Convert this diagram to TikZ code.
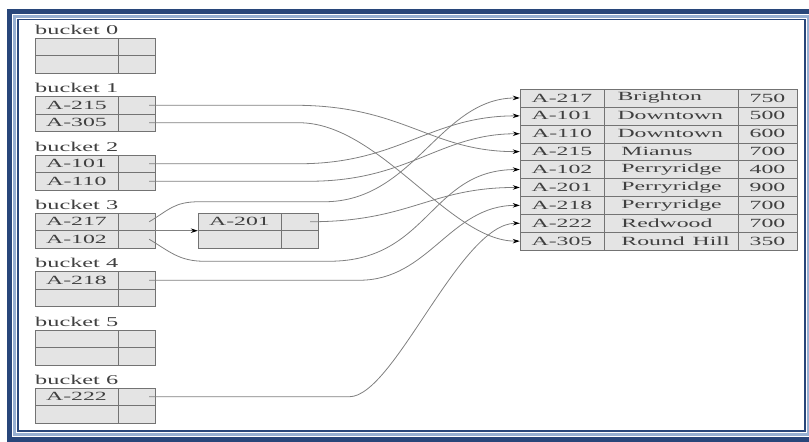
\documentclass[tikz,border=0pt]{standalone}
\usepackage{fontspec}
\setmainfont{Liberation Serif}
\usetikzlibrary{arrows.meta}
\definecolor{framedark}{HTML}{28467A}
\definecolor{framelight}{HTML}{96AFD2}
\definecolor{cellgray}{HTML}{E4E4E4}
\newcommand{\wtxt}[1]{\scalebox{1.9}[1]{#1}}
\newcommand{\ltxt}[1]{\scalebox{1.8}[1]{#1}}

\begin{document}
\begin{tikzpicture}[x=1pt, y=-1pt,
  cell/.style={draw=black!55, fill=cellgray, rectangle, inner sep=0pt,
               minimum height=17.5pt, text=black!75,
               font=\fontsize{12.5}{15}\selectfont},
  kcell/.style={cell, minimum width=83pt},
  pcell/.style={cell, minimum width=37pt},
  tcell/.style={cell, minimum height=17.9pt},
  acol/.style={tcell, minimum width=84pt},
  bcol/.style={tcell, minimum width=134pt, text width=107pt, align=left},
  vcol/.style={tcell, minimum width=59pt},
  bname/.style={anchor=base west, inner sep=0pt, text=black!75,
                font=\fontsize{13.5}{16}\selectfont},
  arr/.style={-{Stealth[length=7pt,width=4.5pt,color=black]},
              draw=black!50, line width=0.8pt}
]
\useasboundingbox (0,0) rectangle (809,442);

%% ── frame ───────────────────────────────────────────────────────────────
\draw[line width=5pt, draw=framedark]  (9.5,11.5) rectangle (815,439.5);
\draw[line width=3pt, draw=framelight] (14.5,16.5) rectangle (808,434.5);
\draw[line width=1.2pt, draw=framedark] (18,19.5) rectangle (805,431);

%% ── buckets ─────────────────────────────────────────────────────────────
\node[bname] (bl0) at (35,34) {\ltxt{bucket 0}};
\node[kcell] (k0a)  at (76.5,46.75)  {};
\node[pcell] (p0a)  at (136.5,46.75) {};
\node[kcell] (k0b)  at (76.5,64.25)  {};
\node[pcell] (p0b)  at (136.5,64.25) {};

\node[bname] (bl1) at (35,92.5) {\ltxt{bucket 1}};
\node[kcell] (k215) at (76.5,105.25)  {\wtxt{A-215}};
\node[pcell] (p215) at (136.5,105.25) {};
\node[kcell] (k305) at (76.5,122.75)  {\wtxt{A-305}};
\node[pcell] (p305) at (136.5,122.75) {};

\node[bname] (bl2) at (35,151) {\ltxt{bucket 2}};
\node[kcell] (k101) at (76.5,163.75)  {\wtxt{A-101}};
\node[pcell] (p101) at (136.5,163.75) {};
\node[kcell] (k110) at (76.5,181.25)  {\wtxt{A-110}};
\node[pcell] (p110) at (136.5,181.25) {};

\node[bname] (bl3) at (35,209) {\ltxt{bucket 3}};
\node[kcell] (k217) at (76.5,221.75)  {\wtxt{A-217}};
\node[pcell] (p217) at (136.5,221.75) {};
\node[kcell] (k102) at (76.5,239.25)  {\wtxt{A-102}};
\node[pcell] (p102) at (136.5,239.25) {};

\node[bname] (bl4) at (35,267.5) {\ltxt{bucket 4}};
\node[kcell] (k218) at (76.5,280.25)  {\wtxt{A-218}};
\node[pcell] (p218) at (136.5,280.25) {};
\node[kcell] (k4b)  at (76.5,297.75)  {};
\node[pcell] (p4b)  at (136.5,297.75) {};

\node[bname] (bl5) at (35,326) {\ltxt{bucket 5}};
\node[kcell] (k5a)  at (76.5,338.75)  {};
\node[pcell] (p5a)  at (136.5,338.75) {};
\node[kcell] (k5b)  at (76.5,356.25)  {};
\node[pcell] (p5b)  at (136.5,356.25) {};

\node[bname] (bl6) at (35,384) {\ltxt{bucket 6}};
\node[kcell] (k222) at (76.5,396.75)  {\wtxt{A-222}};
\node[pcell] (p222) at (136.5,396.75) {};
\node[kcell] (k6b)  at (76.5,414.25)  {};
\node[pcell] (p6b)  at (136.5,414.25) {};

% overflow bucket of bucket 3
\node[kcell] (ko201) at (239.5,221.75) {\wtxt{A-201}};
\node[pcell] (po201) at (299.5,221.75) {};
\node[kcell] (ko2)   at (239.5,239.25) {};
\node[pcell] (po2)   at (299.5,239.25) {};

%% ── account file ────────────────────────────────────────────────────────
\node[acol] (a217) at (562,97.95)  {\wtxt{A-217}};
\node[bcol] (a217n) at (671,97.95) {\wtxt{Brighton}};
\node[vcol] (a217v) at (767.5,97.95) {\wtxt{750}};
\node[acol] (a101) at (562,115.85) {\wtxt{A-101}};
\node[bcol] (a101n) at (671,115.85) {\wtxt{Downtown}};
\node[vcol] (a101v) at (767.5,115.85) {\wtxt{500}};
\node[acol] (a110) at (562,133.75) {\wtxt{A-110}};
\node[bcol] (a110n) at (671,133.75) {\wtxt{Downtown}};
\node[vcol] (a110v) at (767.5,133.75) {\wtxt{600}};
\node[acol] (a215) at (562,151.65) {\wtxt{A-215}};
\node[bcol] (a215n) at (671,151.65) {\wtxt{\,Mianus}};
\node[vcol] (a215v) at (767.5,151.65) {\wtxt{700}};
\node[acol] (a102) at (562,169.55) {\wtxt{A-102}};
\node[bcol] (a102n) at (671,169.55) {\wtxt{\,Perryridge}};
\node[vcol] (a102v) at (767.5,169.55) {\wtxt{400}};
\node[acol] (a201) at (562,187.45) {\wtxt{A-201}};
\node[bcol] (a201n) at (671,187.45) {\wtxt{\,Perryridge}};
\node[vcol] (a201v) at (767.5,187.45) {\wtxt{900}};
\node[acol] (a218) at (562,205.35) {\wtxt{A-218}};
\node[bcol] (a218n) at (671,205.35) {\wtxt{\,Perryridge}};
\node[vcol] (a218v) at (767.5,205.35) {\wtxt{700}};
\node[acol] (a222) at (562,223.25) {\wtxt{A-222}};
\node[bcol] (a222n) at (671,223.25) {\wtxt{\,Redwood}};
\node[vcol] (a222v) at (767.5,223.25) {\wtxt{700}};
\node[acol] (a305) at (562,241.15) {\wtxt{A-305}};
\node[bcol] (a305n) at (671,241.15) {\wtxt{\,Round Hill}};
\node[vcol] (a305v) at (767.5,241.15) {\wtxt{350}};

%% ── pointers ────────────────────────────────────────────────────────────
\draw[arr] ([xshift=-6pt]p215.east) -- ++(145,0)
           .. controls +(110,0) and +(-90,0) .. (a215.west);
\draw[arr] ([xshift=-6pt]p305.east) -- ++(150,0)
           .. controls +(80,0) and +(-70,0) .. (a305.west);
\draw[arr] ([xshift=-6pt]p101.east) -- ++(150,0)
           .. controls +(100,0) and +(-90,0) .. (a101.west);
\draw[arr] ([xshift=-6pt]p110.east) -- ++(160,0)
           .. controls +(100,0) and +(-80,0) .. (a110.west);
\draw[arr] ([xshift=-6pt]p217.east) .. controls +(20,-12) and +(-25,0) .. ++(50,-20)
           -- ++(125,0) .. controls +(90,0) and +(-80,0) .. (a217.west);
\draw[arr] ([xshift=-6pt]p102.east) .. controls +(20,12) and +(-25,0) .. ++(55,22)
           -- ++(125,0) .. controls +(100,0) and +(-90,0) .. (a102.west);
\draw[arr] ([xshift=-8pt]po201.east) .. controls +(100,0) and +(-90,0) .. (a201.west);
\draw[arr] ([xshift=-6pt]p218.east) -- ++(210,0)
           .. controls +(70,0) and +(-70,0) .. (a218.west);
\draw[arr] ([xshift=-6pt]p222.east) -- ++(200,0)
           .. controls +(45,0) and +(-60,0) .. (a222.west);

% overflow chain
\draw[arr] (p217.south east) -- (ko201.south west);

\end{tikzpicture}
\end{document}
